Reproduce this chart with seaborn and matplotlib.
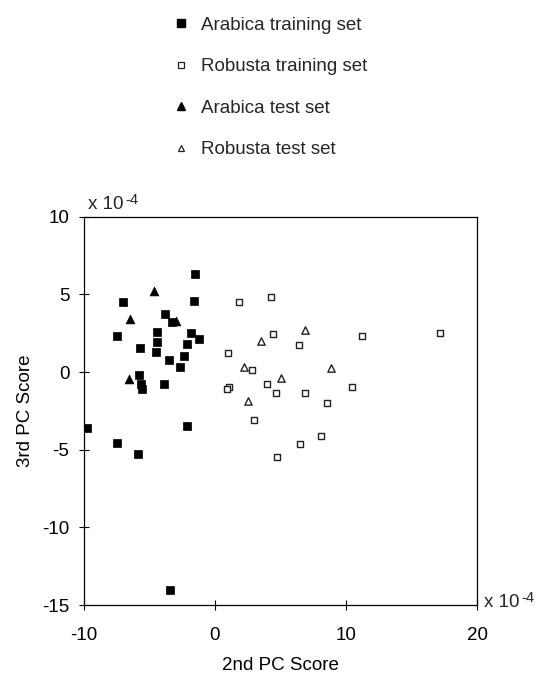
import matplotlib
matplotlib.use("Agg")
import matplotlib.pyplot as plt
import seaborn as sns
import pandas as pd
from matplotlib.lines import Line2D

sns.set_theme(style="white")
plt.rcParams['font.family'] = ['Liberation Sans', 'DejaVu Sans']

# Data (x 10^-4)
arabica_train_x = [-1.5, -7.0, -1.6, -3.8, -3.3, -4.4, -7.5, -1.8, -1.2, -4.4, -5.7, -2.1,
                   -4.5, -2.4, -3.5, -2.7, -5.8, -5.65, -5.6, -3.9, -9.8, -2.1, -7.5, -5.9, -3.4]
arabica_train_y = [6.3, 4.5, 4.55, 3.75, 3.2, 2.6, 2.3, 2.5, 2.15, 1.95, 1.55, 1.8,
                   1.3, 1.0, 0.8, 0.35, -0.2, -0.75, -1.1, -0.75, -3.6, -3.5, -4.55, -5.25, -14.05]
robusta_train_x = [1.8, 4.25, 4.4, 11.2, 6.4, 1.0, 2.8, 1.1, 0.9, 4.0, 4.65, 6.85, 10.45,
                   8.55, 3.0, 8.1, 6.5, 4.75, 17.2]
robusta_train_y = [4.5, 4.85, 2.45, 2.3, 1.75, 1.25, 0.15, -0.95, -1.1, -0.8, -1.35, -1.35,
                   -0.95, -2.0, -3.1, -4.1, -4.65, -5.45, 2.5]
arabica_test_x = [-4.65, -6.5, -3.0, -6.6]
arabica_test_y = [5.2, 3.4, 3.3, -0.45]
robusta_test_x = [6.9, 3.5, 2.2, 8.85, 5.0, 2.5]
robusta_test_y = [2.7, 2.0, 0.35, 0.25, -0.4, -1.85]

labels = ["Arabica training set", "Robusta training set", "Arabica test set", "Robusta test set"]
x_ticks = [-10, 0, 10, 20]
y_ticks = [10, 5, 0, -5, -10, -15]

FS = 13.5

fig = plt.figure(figsize=(5.36, 6.75), dpi=100)
ax = fig.add_axes([84/536, 1 - 605/675, (477-84)/536, (605-216.7)/675])

df_at = pd.DataFrame({"x": arabica_train_x, "y": arabica_train_y})
df_rt = pd.DataFrame({"x": robusta_train_x, "y": robusta_train_y})
df_ae = pd.DataFrame({"x": arabica_test_x, "y": arabica_test_y})
df_re = pd.DataFrame({"x": robusta_test_x, "y": robusta_test_y})

sns.scatterplot(data=df_at, x="x", y="y", ax=ax, marker="s", s=38, color="black",
                edgecolor="black", linewidth=0.5, legend=False)
sns.scatterplot(data=df_rt, x="x", y="y", ax=ax, marker="s", s=24, facecolor="white",
                edgecolor="#222222", linewidth=1.0, legend=False)
sns.scatterplot(data=df_ae, x="x", y="y", ax=ax, marker="^", s=40, color="black",
                edgecolor="black", linewidth=0.5, legend=False)
sns.scatterplot(data=df_re, x="x", y="y", ax=ax, marker="^", s=28, facecolor="white",
                edgecolor="#222222", linewidth=1.0, legend=False)

ax.set_xlim(-10, 20)
ax.set_ylim(-15, 10)
ax.set_xticks(x_ticks)
ax.set_yticks(y_ticks)
ax.set_xticklabels([str(v) for v in x_ticks], fontsize=FS)
ax.set_yticklabels([str(v) for v in y_ticks], fontsize=FS)
ax.tick_params(axis='both', direction='inout', length=7, width=0.8, color='black',
               bottom=True, left=True, top=False, right=False, labelcolor='black')
ax.tick_params(axis='x', pad=12)
ax.tick_params(axis='y', pad=7)
for sp in ax.spines.values():
    sp.set_visible(True)
    sp.set_color('black')
    sp.set_linewidth(0.9)
ax.set_xlabel("2nd PC Score", fontsize=FS, color='black', labelpad=10)
ax.set_ylabel("3rd PC Score", fontsize=FS, color='black', labelpad=6)
ax.grid(False)

# multiplier labels
t1 = fig.text(88/536, 1 - 209/675, "x 10", fontsize=FS, ha='left', va='baseline')
ax.annotate("-4", xy=(1, 0.35), xycoords=t1, xytext=(1, 0), textcoords='offset points',
            fontsize=10.5, ha='left', va='bottom', annotation_clip=False)
t2 = fig.text(484/536, 1 - 607/675, "x 10", fontsize=FS, ha='left', va='baseline')
ax.annotate("-4", xy=(1, 0.35), xycoords=t2, xytext=(1, 0), textcoords='offset points',
            fontsize=10.5, ha='left', va='bottom', annotation_clip=False)

handles = [
    Line2D([], [], marker='s', linestyle='', markersize=5.5, markerfacecolor='black', markeredgecolor='black'),
    Line2D([], [], marker='s', linestyle='', markersize=4.5, markerfacecolor='white', markeredgecolor='#222222', markeredgewidth=0.9),
    Line2D([], [], marker='^', linestyle='', markersize=5.5, markerfacecolor='black', markeredgecolor='black'),
    Line2D([], [], marker='^', linestyle='', markersize=4.5, markerfacecolor='white', markeredgecolor='#222222', markeredgewidth=0.9),
]
fig.legend(handles, labels, loc='upper left', bbox_to_anchor=(163/536, 1 - 9/675),
           frameon=False, fontsize=FS, labelspacing=1.3, handletextpad=0.55,
           handlelength=1.1, borderaxespad=0)

fig.savefig("out.png", dpi=100)
